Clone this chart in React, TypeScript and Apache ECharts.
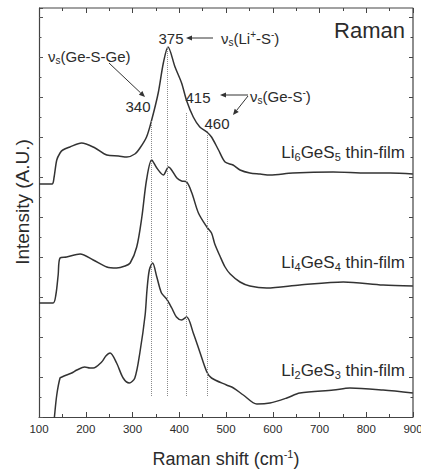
import React, { useEffect, useRef } from "react";
import * as echarts from "echarts";

// Raman spectra of three lithium thio-germanate thin films (stacked, arbitrary units)
const li6Shift = [100, 128, 132, 138, 145, 151, 166, 191, 220, 245, 270, 288, 305, 316, 330, 341, 355, 366, 376, 391, 405, 416, 430, 444, 459, 469, 484, 498, 515, 530, 551, 573, 594, 643, 729, 802, 851, 900];
const li6Intensity = [233, 233, 239, 257, 264, 267, 270, 274, 269, 262, 261, 260, 263, 269, 280, 297, 324, 354, 370, 350, 334, 316, 300, 290, 285, 280, 267, 255, 252, 247, 244, 243, 242, 244, 245, 244, 244, 243];

const li4Shift = [100, 130, 136, 141, 145, 159, 188, 216, 245, 266, 284, 295, 309, 320, 330, 341, 352, 366, 377, 395, 405, 416, 427, 441, 459, 469, 476, 487, 498, 509, 530, 551, 587, 658, 751, 836, 900];
const li4Intensity = [114, 114, 122, 142, 159, 160, 163, 157, 150, 149, 151, 154, 170, 200, 237, 257, 249, 242, 250, 239, 236, 235, 224, 204, 190, 184, 173, 161, 150, 143, 135, 131, 129, 132, 135, 132, 131];

const li2Shift = [128, 133, 138, 145, 149, 159, 170, 181, 198, 209, 216, 234, 243, 252, 266, 280, 293, 305, 316, 327, 331, 336, 343, 352, 362, 373, 384, 394, 405, 416, 430, 444, 459, 469, 501, 516, 537, 566, 594, 630, 658, 730, 765, 836, 900];
const li2Intensity = [-25, 0, 22, 39, 40, 42, 44, 47, 50, 49, 49, 55, 61, 64, 54, 39, 34, 39, 65, 102, 127, 147, 154, 140, 124, 118, 109, 100, 97, 100, 84, 65, 45, 39, 32, 29, 22, 13, 14, 19, 24, 27, 29, 27, 24];

// Band positions marked with dotted guides
const bandPositions = [340, 375, 415, 460];
const bandGuideTop = [297, 370, 305, 286];
const bandGuideBottom = 21;

const shiftMin = 100;
const shiftMax = 900;
const shiftStep = 100;
const intensityMax = 409;
const intensityStep = 40;

const FONT = "'Liberation Sans', Arial, sans-serif";
const INK = "#2b2b2b";
const FRAME = "#444";

const GRID = { left: 39, right: 8, top: 8, bottom: 57 };
const WIDTH = 421;
const HEIGHT = 474;

const pair = (xs: number[], ys: number[]) => xs.map((x, i) => [x, ys[i]]);

function seg(x1: number, y1: number, x2: number, y2: number, width = 1, color = "#333") {
  return {
    type: "line",
    silent: true,
    z: 10,
    shape: { x1, y1, x2, y2 },
    style: { stroke: color, lineWidth: width },
  };
}

function arrow(x1: number, y1: number, x2: number, y2: number) {
  const dx = x2 - x1;
  const dy = y2 - y1;
  const len = Math.hypot(dx, dy);
  const ux = dx / len;
  const uy = dy / len;
  const hl = 6;
  const hw = 2.6;
  const bx = x2 - ux * hl;
  const by = y2 - uy * hl;
  return [
    seg(x1, y1, bx, by),
    {
      type: "polygon",
      shape: {
        points: [
          [x2, y2],
          [bx - uy * hw, by + ux * hw],
          [bx + uy * hw, by - ux * hw],
        ],
      },
      style: { fill: "#333" },
      silent: true,
    },
  ];
}

const noteRich = {
  m: { fontSize: 15, lineHeight: 18, fontFamily: FONT, fill: INK },
  s: { fontSize: 10, lineHeight: 6, fontFamily: FONT, fill: INK, verticalAlign: "bottom" },
  p: { fontSize: 10, lineHeight: 6, fontFamily: FONT, fill: INK, verticalAlign: "top" },
};

const sampleRich = {
  m: { fontSize: 17, lineHeight: 20, fontFamily: FONT, fill: INK },
  s: { fontSize: 11, lineHeight: 6, fontFamily: FONT, fill: INK, verticalAlign: "bottom" },
};

function note(text: string, x: number, y: number, align: string, rich?: any, fontSize = 15) {
  return {
    type: "text",
    x,
    y,
    silent: true,
    style: {
      text,
      rich,
      fontSize,
      fontFamily: FONT,
      fill: INK,
      align,
      verticalAlign: "middle",
    },
  };
}

function sample(label: string, y: number) {
  return {
    type: "text",
    x: 405,
    y,
    silent: true,
    style: {
      text: label,
      rich: sampleRich,
      align: "right",
      verticalAlign: "middle",
      fontFamily: FONT,
    },
  };
}

export default function App() {
  const ref = useRef<HTMLDivElement>(null);

  useEffect(() => {
    if (!ref.current) return;
    document.body.style.margin = "0";
    document.body.style.overflow = "hidden";
    const chart = echarts.init(ref.current, undefined, {
      renderer: "svg",
      width: WIDTH,
      height: HEIGHT,
    });

    const curveStyle = { color: "#333", width: 1.5 };
    const axisLine = { show: true, onZero: false, lineStyle: { color: FRAME, width: 1.2 } };

    const guides = bandPositions.map((b, i) => [
      { coord: [b, bandGuideBottom] },
      { coord: [b, bandGuideTop[i]] },
    ]);

    const lineSeries = (name: string, xs: number[], ys: number[]) => ({
      name,
      type: "line",
      data: pair(xs, ys),
      smooth: 0.3,
      showSymbol: false,
      lineStyle: curveStyle,
      clip: true,
    });

    // Mirrored inside ticks along the top and right edges, as short line segments in data space
    const tickSegs: any[] = [];
    const xSpan = shiftMax - shiftMin;
    for (let s = shiftMin; s <= shiftMax; s += shiftStep / 2) {
      const major = (s - shiftMin) % shiftStep === 0;
      const len = (major ? 5 : 3) / 409 * intensityMax;
      tickSegs.push([
        { coord: [s, intensityMax] },
        { coord: [s, intensityMax - len] },
      ]);
    }
    for (let v = 0; v <= intensityMax; v += intensityStep / 2) {
      const major = v % intensityStep === 0;
      const len = (major ? 4 : 2.5) / 374 * xSpan;
      tickSegs.push([
        { coord: [shiftMax - len, v] },
        { coord: [shiftMax, v] },
      ]);
    }

    chart.setOption({
      animation: false,
      backgroundColor: "#fff",
      grid: { ...GRID, containLabel: false, outerBoundsMode: "none" },
      xAxis: {
        type: "value",
        min: shiftMin,
        max: shiftMax,
        interval: shiftStep,
        axisLine,
        axisTick: { show: true, inside: true, length: 5, lineStyle: { color: FRAME } },
        minorTick: { show: true, splitNumber: 2, length: 3, lineStyle: { color: FRAME } },
        splitLine: { show: false },
        axisLabel: { fontSize: 11.5, color: INK, fontFamily: FONT, margin: 6, hideOverlap: false },
        name: "{a|Raman shift (cm}{s|-1}{a|)}",
        nameLocation: "middle",
        nameGap: 31,
        nameTextStyle: {
          fontFamily: FONT,
          color: INK,
          rich: {
            a: { fontSize: 18, lineHeight: 22, fontFamily: FONT, color: INK },
            s: { fontSize: 11, lineHeight: 8, fontFamily: FONT, color: INK, verticalAlign: "top" },
          },
        },
      },
      yAxis: {
        type: "value",
        min: 0,
        max: intensityMax,
        interval: intensityStep,
        axisLine,
        axisTick: { show: true, inside: true, length: 4, lineStyle: { color: "#555" } },
        minorTick: { show: true, splitNumber: 2, length: 2.5, lineStyle: { color: "#555" } },
        splitLine: { show: false },
        axisLabel: { show: false },
      },
      series: [
        {
          ...lineSeries("Li6GeS5 thin-film", li6Shift, li6Intensity),
          markLine: {
            silent: true,
            symbol: ["none", "none"],
            label: { show: false },
            lineStyle: { type: "dotted", color: "#8a8a8a", width: 1 },
            data: guides,
          },
        },
        lineSeries("Li4GeS4 thin-film", li4Shift, li4Intensity),
        lineSeries("Li2GeS3 thin-film", li2Shift, li2Intensity),
        // Top and right edges of the plot frame
        {
          name: "frame",
          type: "line",
          data: [
            [shiftMin, intensityMax],
            [shiftMax, intensityMax],
            [shiftMax, 0],
          ],
          showSymbol: false,
          symbol: "none",
          clip: false,
          silent: true,
          z: 5,
          lineStyle: { color: FRAME, width: 1.2 },
          markLine: {
            silent: true,
            symbol: ["none", "none"],
            label: { show: false },
            lineStyle: { type: "solid", color: FRAME, width: 1 },
            data: tickSegs,
          },
        },
      ],
      graphic: [
        {
          type: "text",
          x: 22,
          y: 202,
          rotation: Math.PI / 2,
          silent: true,
          style: {
            text: "Intensity (A.U.)",
            fontSize: 19,
            fontFamily: FONT,
            fill: INK,
            align: "center",
            verticalAlign: "middle",
          },
        },
        note("Raman", 405, 30, "right", undefined, 22),
        note("375", 171, 38, "center"),
        ...arrow(213, 38, 186, 38),
        note("{m|ν}{s|s}{m|(Li}{p|+}{m|-S}{p|-}{m|)}", 221, 38, "left", noteRich),
        note("{m|ν}{s|s}{m|(Ge-S-Ge)}", 48, 56, "left", noteRich),
        ...arrow(109, 63, 145, 97),
        note("340", 138, 106, "center"),
        note("415", 198, 97, "center"),
        ...arrow(248, 95, 220, 95),
        ...arrow(248, 96, 233, 115),
        note("{m|ν}{s|s}{m|(Ge-S}{p|-}{m|)}", 250, 96, "left", noteRich),
        note("460", 217, 123, "center"),
        sample("{m|Li}{s|6}{m|GeS}{s|5}{m| thin-film}", 152),
        sample("{m|Li}{s|4}{m|GeS}{s|4}{m| thin-film}", 262),
        sample("{m|Li}{s|2}{m|GeS}{s|3}{m| thin-film}", 370),
      ],
    });

    return () => chart.dispose();
  }, []);

  return <div ref={ref} style={{ width: WIDTH, height: HEIGHT, background: "#fff" }} />;
}
